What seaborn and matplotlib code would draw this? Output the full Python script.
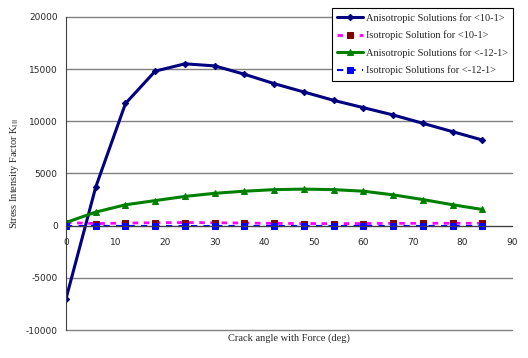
import numpy as np
import pandas as pd
import matplotlib
matplotlib.use('Agg')
import matplotlib.pyplot as plt
import seaborn as sns

angles = [0, 6, 12, 18, 24, 30, 36, 42, 48, 54, 60, 66, 72, 78, 84]
aniso_101 = [-7000, 3700, 11700, 14800, 15500, 15300, 14500, 13600, 12800,
             12000, 11300, 10600, 9800, 9000, 8200]
iso_101 = [300, 200, 250, 280, 300, 280, 250, 220, 200, 200, 200, 220, 230, 230, 230]
aniso_121 = [300, 1300, 2000, 2400, 2800, 3100, 3300, 3450, 3500,
             3450, 3300, 2950, 2500, 2000, 1550]
iso_121 = [0, 0, 0, 0, 0, 0, 0, 0, 0, 0, 0, 0, 0, 0, 0]

labels = ['Anisotropic Solutions for <10-1>',
          'Isotropic Solution for <10-1>',
          'Anisotropic Solutions for <-12-1>',
          'Isotropic Solutions for <-12-1>']

sns.set_style('white')
plt.rcParams['axes.unicode_minus'] = False

fig = plt.figure(figsize=(5.28, 3.58), dpi=100)
ax = fig.add_axes([0.125, 0.078, 0.845, 0.875])

styles = [
    dict(series=aniso_101, color='#000080', ls='-', lw=2.2, marker='D', ms=3.2, mfc='#000080'),
    dict(series=iso_101, color='#FF00FF', ls=(0, (2, 2)), lw=2.0, marker='s', ms=3.8, mfc='#800000'),
    dict(series=aniso_121, color='#008000', ls='-', lw=2.2, marker='^', ms=4.8, mfc='#008000'),
    dict(series=iso_121, color='#0000FF', ls=(0, (3, 3)), lw=1.5, marker='s', ms=3.8, mfc='#0000FF'),
]

for label, st in zip(labels, styles):
    df = pd.DataFrame({'angle': angles, 'K': st['series']})
    sns.lineplot(data=df, x='angle', y='K', ax=ax, color=st['color'], linestyle=st['ls'],
                 linewidth=st['lw'], marker=st['marker'], markersize=st['ms'],
                 markerfacecolor=st['mfc'], markeredgecolor=st['mfc'], label=label)

ax.set_xlim(0, 90)
ax.set_ylim(-10000, 20000)
ax.set_xticks(range(0, 91, 10))
ax.set_yticks(range(-10000, 20001, 5000))
ax.yaxis.grid(True, color='#808080', linewidth=1.0)
for gl in ax.get_ygridlines():
    gl.set_clip_on(False)
ax.set_axisbelow(True)

for s in ['top', 'right']:
    ax.spines[s].set_visible(False)
ax.spines['bottom'].set_position(('data', 0))
ax.spines['bottom'].set_color('#404040')
ax.spines['left'].set_color('#404040')
ax.tick_params(axis='both', which='both', labelsize=6.5, direction='out',
               length=4, color='#404040', pad=2)
ax.tick_params(axis='x', direction='inout', length=6, pad=6)

serif = ['Liberation Serif', 'DejaVu Serif']
ax.set_xlabel('Crack angle with Force (deg)', fontsize=7.5, family=serif)
ax.xaxis.set_label_coords(0.5, -0.012)
ax.set_ylabel(r'Stress Intensity Factor K$_{\mathrm{III}}$', fontsize=7.5, family=serif)
ax.yaxis.set_label_coords(-0.1, 0.5)

leg = ax.legend(loc='upper right', bbox_to_anchor=(1.014, 1.045),
                prop={'family': serif, 'size': 7.5}, frameon=True, fancybox=False,
                edgecolor='black', framealpha=1, handlelength=2.5, borderpad=0.5,
                labelspacing=0.75, handletextpad=0.3)
leg.get_frame().set_linewidth(0.8)

fig.savefig('out.png', dpi=100)
